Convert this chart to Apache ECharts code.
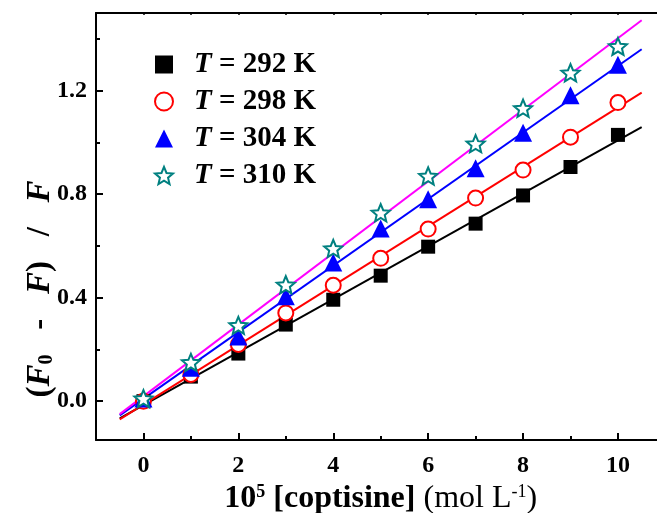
<!DOCTYPE html>
<html><head><meta charset="utf-8">
<script src="https://cdn.jsdelivr.net/npm/echarts@6/dist/echarts.min.js"></script>
<style>html,body{margin:0;padding:0;background:#fff}#c{width:657px;height:513px}</style>
</head><body><div id="c"></div>
<script>
var concentrations = [0,1,2,3,4,5,6,7,8,9,10];
var y292 = [0.00,0.095,0.184,0.296,0.392,0.485,0.597,0.686,0.795,0.905,1.029];
var y298 = [0.00,0.103,0.219,0.341,0.448,0.552,0.665,0.785,0.893,1.020,1.154];
var y304 = [0.01,0.129,0.250,0.405,0.536,0.667,0.780,0.900,1.037,1.182,1.300];
var y310 = [0.01,0.150,0.293,0.450,0.590,0.728,0.870,0.995,1.132,1.269,1.371];
var fitX = [-0.5,10.5];
var fit292 = [-0.066,1.059];
var fit298 = [-0.070,1.192];
var fit304 = [-0.055,1.360];
var fit310 = [-0.050,1.472];
var seriesNames = ['292','298','304','310'];
var xLabelTicks = [0,2,4,6,8,10];
var xMinorTicks = [1,3,5,7,9];
var xTopTicks = [0,1,2,3,4,5,6,7,8,9,10];
var yLabelTicks = [0,0.4,0.8,1.2];
var yMinorTicks = [0.2,0.6,1.0,1.4];

var FONT = "'Liberation Serif','Times New Roman',serif";
var STAR = 'path://M100,0L126.45,63.6L195.1,69.1L142.8,113.9L158.8,180.9L100,145L41.2,180.9L57.2,113.9L4.9,69.1L73.55,63.6Z';
function pairs(xs, ys){ return xs.map(function(x,i){return [x, ys[i]];}); }

var markerStyles = [
  {symbol:'rect', size:14, item:{color:'#000', opacity:1}},
  {symbol:'circle', size:15, item:{color:'#fff', borderColor:'#ff0000', borderWidth:2, opacity:1}},
  {symbol:'triangle', size:18, item:{color:'#0000ff', opacity:1}},
  {symbol:STAR, size:18, item:{color:'#fff', borderColor:'#008080', borderWidth:2, opacity:1}}
];
var lineColors = ['#000000','#ff0000','#0000ff','#ff00ff'];
var pointSets = [y292,y298,y304,y310];
var fitSets = [fit292,fit298,fit304,fit310];

var series = [];
fitSets.forEach(function(f,i){
  series.push({type:'line', data:pairs(fitX,f), symbol:'none', silent:true,
    lineStyle:{color:lineColors[i], width:2}, z:2, xAxisIndex:0, yAxisIndex:0});
});
pointSets.forEach(function(ys,i){
  var m = markerStyles[i];
  series.push({type:'scatter', name:seriesNames[i], data:pairs(concentrations,ys),
    symbol:m.symbol, symbolSize:m.size, symbolKeepAspect:true, itemStyle:m.item, z:3+i,
    xAxisIndex:0, yAxisIndex:0});
});

var labelFont = {fontFamily:FONT, fontWeight:'bold', fontSize:24, color:'#000'};
var option = {
  animation:false,
  grid:{left:96, top:13, width:569.4, height:427, containLabel:false, outerBoundsMode:'none'},
  legend:{
    orient:'vertical', left:149, top:45, itemWidth:18, itemHeight:18, itemGap:8,
    data:seriesNames.map(function(n,i){return {name:n, icon:markerStyles[i].symbol};}),
    formatter:function(n){ return '{i|T} = ' + n + ' K'; },
    textStyle:{fontFamily:FONT, fontWeight:'bold', fontSize:29, color:'#000', padding:[0,0,0,16], lineHeight:29,
      rich:{i:{fontFamily:FONT, fontWeight:'bold', fontStyle:'italic', fontSize:29, color:'#000', lineHeight:29}}}
  },
  xAxis:[
    {type:'value', min:-1, max:11, position:'bottom',
      axisLine:{show:true, onZero:false, lineStyle:{color:'#000', width:2}},
      axisTick:{show:true, inside:true, length:7, lineStyle:{color:'#000', width:2}, customValues:xLabelTicks},
      axisLabel:Object.assign({customValues:xLabelTicks, margin:14}, labelFont),
      splitLine:{show:false},
      name:'{b|10}{bsup|5}{b| [coptisine] }{n|(mol L}{sup|-1}{n|)}',
      nameLocation:'middle', nameGap:37,
      nameTextStyle:{rich:{
        b:{fontFamily:FONT, fontWeight:'bold', fontSize:32, color:'#000'},
        bsup:{fontFamily:FONT, fontWeight:'bold', fontSize:18, color:'#000', verticalAlign:'top', padding:[0,0,14,0]},
        n:{fontFamily:FONT, fontSize:32, color:'#000'},
        sup:{fontFamily:FONT, fontSize:18, color:'#000', verticalAlign:'top', padding:[0,0,14,0]}
      }}
    },
    {type:'value', min:-1, max:11, position:'bottom',
      axisLine:{show:false, onZero:false},
      axisTick:{show:true, inside:true, length:4, lineStyle:{color:'#000', width:2}, customValues:xMinorTicks},
      axisLabel:{show:false}, splitLine:{show:false}},
    {type:'value', min:-1, max:11, position:'top',
      axisLine:{show:true, onZero:false, lineStyle:{color:'#000', width:2}},
      axisTick:{show:true, inside:true, length:2, lineStyle:{color:'#000', width:1.5}, customValues:xTopTicks},
      axisLabel:{show:false}, splitLine:{show:false}}
  ],
  yAxis:[
    {type:'value', min:-0.15, max:1.5, position:'left',
      axisLine:{show:true, onZero:false, lineStyle:{color:'#000', width:2}},
      axisTick:{show:true, inside:true, length:7, lineStyle:{color:'#000', width:2}, customValues:yLabelTicks},
      axisLabel:Object.assign({customValues:yLabelTicks, margin:9, formatter:function(v){return v.toFixed(1);}}, labelFont),
      splitLine:{show:false}},
    {type:'value', min:-0.15, max:1.5, position:'left',
      axisLine:{show:false, onZero:false},
      axisTick:{show:true, inside:true, length:4, lineStyle:{color:'#000', width:2}, customValues:yMinorTicks},
      axisLabel:{show:false}, splitLine:{show:false}}
  ],
  graphic:[{
    type:'text', x:40, y:289, rotation:Math.PI/2,
    style:{
      text:'{b|(}{bi|F}{sub|0}{b|   -   }{bi|F}{b|)   /   }{bi|F}',
      align:'center', verticalAlign:'middle',
      rich:{
        b:{fontFamily:FONT, fontWeight:'bold', fontSize:33, fill:'#000'},
        bi:{fontFamily:FONT, fontWeight:'bold', fontStyle:'italic', fontSize:33, fill:'#000'},
        sub:{fontFamily:FONT, fontWeight:'bold', fontSize:20, fill:'#000', verticalAlign:'bottom', padding:[12,0,0,0]}
      }
    }
  }],
  series:series
};
var chart = echarts.init(document.getElementById('c'), null, {renderer:'canvas'});
chart.setOption(option);
</script></body></html>
